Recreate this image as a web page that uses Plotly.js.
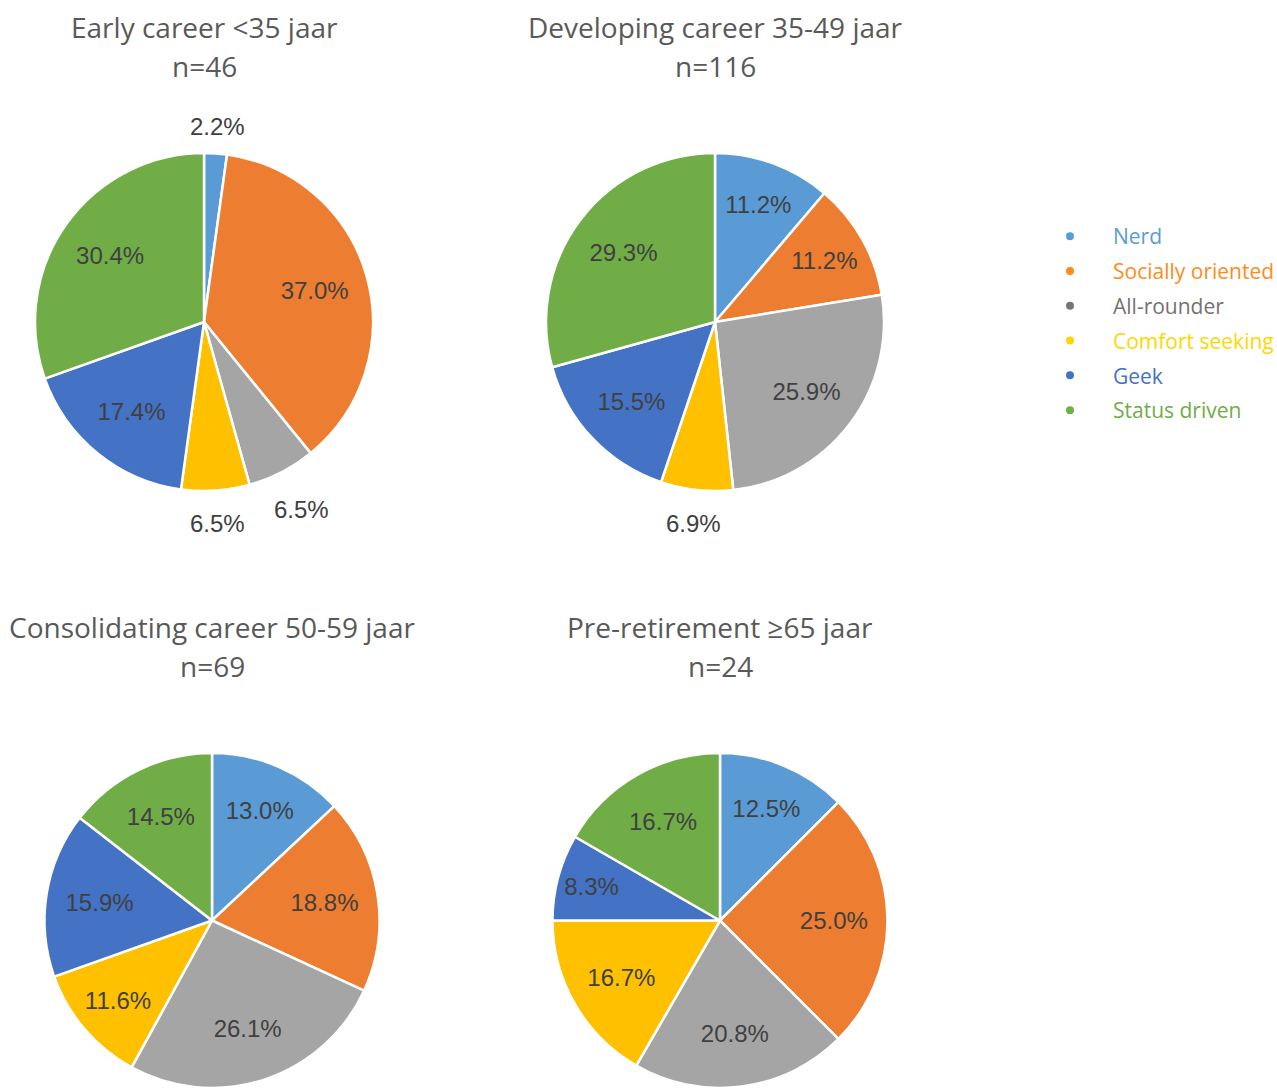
<!DOCTYPE html>
<html>
<head>
<meta charset="utf-8">
<script src="https://cdn.plot.ly/plotly-3.0.1.min.js"></script>
<style>html,body{margin:0;padding:0;background:#fff;}#chart{width:1277px;height:1088px;}</style>
</head>
<body>
<div id="chart"></div>
<script>
// ---- data ----
const categories = ["Nerd", "Socially oriented", "All-rounder", "Comfort seeking", "Geek", "Status driven"];
const groupTitles = ["Early career <35 jaar", "Developing career 35-49 jaar", "Consolidating career 50-59 jaar", "Pre-retirement ≥65 jaar"];
const groupN = [46, 116, 69, 24];
const earlyCounts = [1, 17, 3, 3, 8, 14];
const developingCounts = [13, 13, 30, 8, 18, 34];
const consolidatingCounts = [9, 13, 18, 8, 11, 10];
const preRetirementCounts = [3, 6, 5, 4, 2, 4];

// ---- styles ----
const sliceColors = ["#5B9BD5", "#ED7D31", "#A5A5A5", "#FFC000", "#4472C4", "#70AD47"];
const legendDotColors = ["#5B9BD5", "#FF8C1A", "#767676", "#FFD700", "#4472C4", "#70AD47"];
const legendTextColors = ["#5B9BD5", "#FF8C1A", "#767171", "#FFD700", "#4472C4", "#70AD47"];
const labelFont = {family: "Liberation Sans, Arial, sans-serif", size: 24, color: "#404040"};
const titleFont = {family: "Open Sans, sans-serif", size: 28, color: "#595959"};

const W = 1277, H = 1088;
const pies = [
  {vals: earlyCounts, cx: 204, cy: 322, r: 169, outside: [true, false, true, true, false, false]},
  {vals: developingCounts, cx: 715, cy: 322, r: 169, outside: [false, false, false, true, false, false]},
  {vals: consolidatingCounts, cx: 212, cy: 922, r: 169, outside: [false, false, false, false, false, false]},
  {vals: preRetirementCounts, cx: 720, cy: 922, r: 169, outside: [false, false, false, false, false, false]}
];
const titleY = [[27, 66], [27, 66], [627, 666], [627, 666]];

const traces = [];
const annotations = [];

pies.forEach((p, i) => {
  const domain = {x: [(p.cx - p.r) / W, (p.cx + p.r) / W], y: [1 - (p.cy + p.r) / H, 1 - (p.cy - p.r) / H]};
  // coloured slices
  traces.push({
    type: "pie", values: p.vals, labels: categories, sort: false,
    direction: "clockwise", rotation: 0, showlegend: false,
    marker: {colors: sliceColors, line: {color: "#ffffff", width: 2.5}},
    textinfo: "none", domain: domain, hoverinfo: "label+percent"
  });
  // inside labels (transparent ring so labels sit further out, like the original)
  traces.push({
    type: "pie", values: p.vals, labels: categories, sort: false,
    direction: "clockwise", rotation: 0, showlegend: false, hole: 0.36,
    marker: {colors: categories.map(() => "rgba(0,0,0,0)"), line: {width: 0}},
    texttemplate: "%{percent:.1%}",
    textposition: p.outside.map(o => o ? "none" : "inside"),
    insidetextorientation: "horizontal",
    textfont: labelFont, domain: domain, hoverinfo: "skip"
  });
  // outside labels, positioned from the slice angles
  const total = p.vals.reduce((a, b) => a + b, 0);
  let cum = 0;
  p.vals.forEach((v, k) => {
    const mid = (cum + v / 2) / total * 2 * Math.PI;
    cum += v;
    if (!p.outside[k]) return;
    const txt = (v / total * 100).toFixed(1) + "%";
    const ux = Math.sin(mid), uy = -Math.cos(mid);
    const hw = txt.length * 6.9, hh = 13;
    const d = p.r + (uy < 0 ? 12 : 18) + Math.abs(ux) * hw + Math.abs(uy) * hh;
    annotations.push({
      text: txt, x: (p.cx + ux * d) / W, y: 1 - (p.cy + uy * d) / H,
      xref: "paper", yref: "paper", xanchor: "center", yanchor: "middle",
      showarrow: false, font: labelFont
    });
  });
  // titles
  annotations.push({
    text: groupTitles[i], x: p.cx / W, y: 1 - titleY[i][0] / H,
    xref: "paper", yref: "paper", xanchor: "center", yanchor: "middle",
    showarrow: false, font: titleFont
  });
  annotations.push({
    text: "n=" + groupN[i], x: p.cx / W, y: 1 - titleY[i][1] / H,
    xref: "paper", yref: "paper", xanchor: "center", yanchor: "middle",
    showarrow: false, font: titleFont
  });
});

// legend entries as dots
categories.forEach((c, i) => {
  traces.push({
    type: "scatter", mode: "markers", x: [null], y: [null],
    name: '<span style="color:' + legendTextColors[i] + '">' + c + '</span>',
    legendgroup: "g" + i,
    marker: {color: legendDotColors[i], size: 8, symbol: "circle"},
    showlegend: true, hoverinfo: "skip"
  });
});

const layout = {
  width: W, height: H,
  margin: {l: 0, r: 0, t: 0, b: 0, autoexpand: false},
  paper_bgcolor: "#ffffff", plot_bgcolor: "#ffffff",
  xaxis: {visible: false, domain: [0.99, 1]},
  yaxis: {visible: false, domain: [0.99, 1]},
  showlegend: true,
  legend: {
    x: 1027 / W, y: 1 - 216 / H, xanchor: "left", yanchor: "top",
    font: {family: "Open Sans, sans-serif", size: 21},
    tracegroupgap: 4.5, itemwidth: 76, bgcolor: "rgba(0,0,0,0)"
  },
  annotations: annotations
};

Plotly.newPlot("chart", traces, layout, {displayModeBar: false, staticPlot: true});
</script>
</body>
</html>
